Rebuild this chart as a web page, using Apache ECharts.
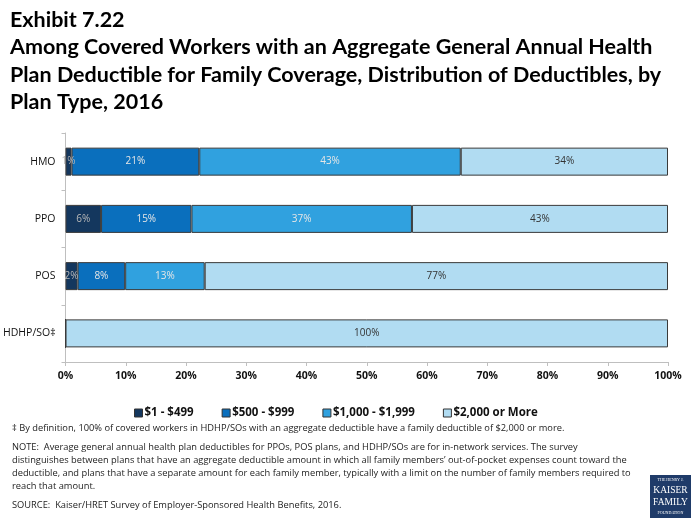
<!DOCTYPE html>
<html><head><meta charset="utf-8">
<script src="https://cdn.jsdelivr.net/npm/echarts@6/dist/echarts.min.js"></script>
<style>html,body{margin:0;padding:0;background:#fff}#c{width:698px;height:523px}</style>
</head><body><div id="c"></div>
<script>
var categories = ['HMO', 'PPO', 'POS', 'HDHP/SO\u2021'];
var seriesNames = ['$1 - $499', '$500 - $999', '$1,000 - $1,999', '$2,000 or More'];
var s1 = [1.0, 5.9, 2.0, 0];
var s2 = [21.2, 15.0, 7.9, 0];
var s3 = [43.4, 36.6, 13.2, 0];
var s4 = [34.4, 42.5, 76.9, 100];
var xTicks = [0, 10, 20, 30, 40, 50, 60, 70, 80, 90, 100];
var colors = ['#14375e', '#0a6fbd', '#30a1df', '#b1dcf2'];
var labelColors = ['#b8b8b8', '#e6e6e6', '#e6e6e6', '#333333'];
var font = '"Open Sans", "Liberation Sans", sans-serif';

var chart = echarts.init(document.getElementById('c'));
var data = [s1, s2, s3, s4];
var series = data.map(function (arr, i) {
  return {
    name: seriesNames[i], type: 'bar', stack: 'total', barWidth: 28,
    data: arr,
    itemStyle: { color: colors[i], borderColor: '#3a3a3a', borderWidth: 1 },
    label: {
      show: true, position: 'inside', color: labelColors[i], fontSize: 10, fontFamily: font,
      formatter: function (p) { return p.value > 0 ? Math.round(p.value) + '%' : ''; }
    },
    emphasis: { disabled: true }
  };
});

var footY = [430, 449, 462, 475, 488, 507];
var footLines = [
  '\u2021 By definition, 100% of covered workers in HDHP/SOs with an aggregate deductible have a family deductible of $2,000 or more.',
  'NOTE:  Average general annual health plan deductibles for PPOs, POS plans, and HDHP/SOs are for in-network services. The survey',
  'distinguishes between plans that have an aggregate deductible amount in which all family members\u2019 out-of-pocket expenses count toward the',
  'deductible, and plans that have a separate amount for each family member, typically with a limit on the number of family members required to',
  'reach that amount.',
  'SOURCE:  Kaiser/HRET Survey of Employer-Sponsored Health Benefits, 2016.'
];
var graphics = footLines.map(function (t, i) {
  return { type: 'text', left: 12, top: footY[i] - 6, style: { text: t, font: '9.3px ' + font, fill: '#222' } };
});
graphics.push({ type: 'rect', shape: { x: 650, y: 475, width: 41, height: 43 }, style: { fill: '#1f3b69' } });
var logo = [['THE HENRY J.', 480, 4], ['KAISER', 490, 9.5], ['FAMILY', 502, 9.5], ['FOUNDATION', 513, 4]];
logo.forEach(function (l) {
  graphics.push({ type: 'text', x: 670.5, y: l[1], style: { text: l[0], font: l[2] + 'px "Liberation Serif", serif', fill: '#fff', textAlign: 'center', textVerticalAlign: 'middle' } });
});

chart.setOption({
  animation: false,
  title: {
    text: 'Exhibit 7.22\nAmong Covered Workers with an Aggregate General Annual Health\nPlan Deductible for Family Coverage, Distribution of Deductibles, by\nPlan Type, 2016',
    left: 5, top: 1,
    textStyle: { fontSize: 21.5, fontWeight: 'bold', fontFamily: 'Lato, sans-serif', lineHeight: 27.5, color: '#000' }
  },
  legend: {
    data: seriesNames, left: 129, top: 402, itemWidth: 8, itemHeight: 8, itemGap: 28, icon: 'rect',
    textStyle: { fontSize: 11.5, fontWeight: 'bold', fontFamily: font, color: '#111', padding: [0, 0, 0, -3] },
    itemStyle: { borderColor: '#333', borderWidth: 1 }
  },
  grid: { left: 64, right: 30, top: 133, bottom: 161, containLabel: false },
  xAxis: {
    type: 'value', min: 0, max: 100, interval: 10,
    axisLine: { show: true, lineStyle: { color: '#bfbfbf' } },
    axisTick: { show: true, length: 4, lineStyle: { color: '#bfbfbf' } },
    splitLine: { show: false },
    axisLabel: { fontSize: 10.5, fontWeight: 'bold', fontFamily: font, color: '#111', margin: 9,
      formatter: function (v) { return xTicks.indexOf(v) >= 0 ? v + '%' : ''; } }
  },
  yAxis: {
    type: 'category', data: categories, inverse: true,
    axisLine: { show: true, lineStyle: { color: '#bfbfbf' } },
    axisTick: { show: true, length: 4, lineStyle: { color: '#bfbfbf' } },
    axisLabel: { fontSize: 10.5, fontFamily: font, color: '#111', margin: 10 }
  },
  series: series,
  graphic: graphics
});
</script></body></html>
